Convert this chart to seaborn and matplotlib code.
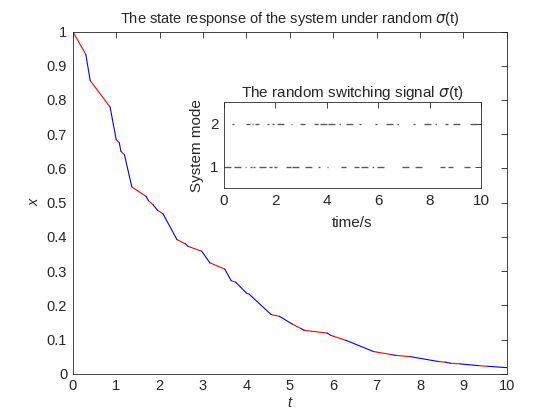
import numpy as np
import pandas as pd
import seaborn as sns
import matplotlib.pyplot as plt

# switching instants, state value at each instant, active mode on each interval
t_switch = [0, 0.30, 0.40, 0.86, 1.00, 1.07, 1.11, 1.19, 1.36, 1.69, 1.74, 1.85,
            1.95, 2.08, 2.40, 2.59, 2.66, 2.97, 3.16, 3.50, 3.65, 3.75, 4.00, 4.06,
            4.57, 4.76, 5.06, 5.26, 5.33, 5.86, 5.95, 6.29, 6.93, 7.35, 7.43, 7.78,
            8.42, 8.58, 8.70, 8.92, 9.34, 9.56, 10.0]
x_state = [1.0, 0.933, 0.857, 0.779, 0.684, 0.675, 0.650, 0.640, 0.546, 0.518, 0.506, 0.494,
           0.478, 0.467, 0.392, 0.380, 0.372, 0.358, 0.324, 0.306, 0.272, 0.268, 0.236, 0.233,
           0.173, 0.168, 0.145, 0.132, 0.127, 0.119, 0.112, 0.098, 0.065, 0.056, 0.054, 0.050,
           0.036, 0.034, 0.031, 0.029, 0.024, 0.022, 0.018]
modes = [1, 2, 1, 2, 1, 2, 1, 2, 1, 2, 1, 2,
         1, 2, 1, 2, 1, 2, 1, 2, 1, 2, 1, 2,
         1, 2, 1, 2, 1, 2, 1, 2, 1, 2, 1, 2,
         1, 2, 1, 2, 1, 2]

rows, sig_rows = [], []
for i, m in enumerate(modes):
    for j in (i, i + 1):
        rows.append({"t": t_switch[j], "x": x_state[j], "seg": i, "mode": m})
        sig_rows.append({"t": t_switch[j], "sigma": m, "seg": i})
df = pd.DataFrame(rows)
sig = pd.DataFrame(sig_rows)

sns.set_style("white")
plt.rcParams["font.family"] = ["Liberation Sans", "DejaVu Sans"]
plt.rcParams["font.size"] = 10.5
plt.rcParams["text.color"] = "#262626"
plt.rcParams["axes.labelcolor"] = "#262626"
plt.rcParams["xtick.color"] = "#262626"
plt.rcParams["ytick.color"] = "#262626"

fig = plt.figure(figsize=(5.6, 4.2), dpi=100)
ax = fig.add_axes([0.13, 0.11, 0.775, 0.815])
sns.lineplot(data=df, x="t", y="x", units="seg", hue="mode", estimator=None,
             palette={1: "#ff0000", 2: "#0000ff"}, linewidth=0.8, legend=False,
             sort=False, ax=ax)
ax.set_xlim(0, 10)
ax.set_ylim(0, 1)
ax.set_xticks(np.arange(0, 11, 1))
ax.set_yticks(np.round(np.arange(0, 1.01, 0.1), 1))
ax.set_yticklabels(["0", "0.1", "0.2", "0.3", "0.4", "0.5", "0.6", "0.7", "0.8", "0.9", "1"])
ax.set_xlabel("t", fontstyle="italic", labelpad=2)
ax.set_ylabel("x", fontstyle="italic", labelpad=4)
ax.set_title(r"The state response of the system under random $\sigma$(t)", fontsize=10.5, pad=6)

ins = fig.add_axes([0.40, 0.552, 0.459, 0.205])
sns.lineplot(data=sig, x="t", y="sigma", units="seg", estimator=None, color="#5a5a5a",
             linewidth=1.0, linestyle=(0, (5, 3, 1, 3)), sort=False, ax=ins)
ins.set_xlim(0, 10)
ins.set_ylim(0.5, 2.5)
ins.set_xticks([0, 2, 4, 6, 8, 10])
ins.set_yticks([1, 2])
ins.set_xlabel("time/s", fontsize=11, labelpad=6)
ins.set_ylabel("System mode", fontsize=11)
ins.set_title(r"The random switching signal $\sigma$(t)", fontsize=11, pad=4)

for a in (ax, ins):
    for s in a.spines.values():
        s.set_visible(True)
        s.set_color("#262626")
        s.set_linewidth(0.6)
    a.tick_params(direction="in", top=True, right=True, length=4, width=0.6, labelsize=10.5, pad=4)
ins.tick_params(labelsize=11)

fig.savefig("out.png", dpi=100)
